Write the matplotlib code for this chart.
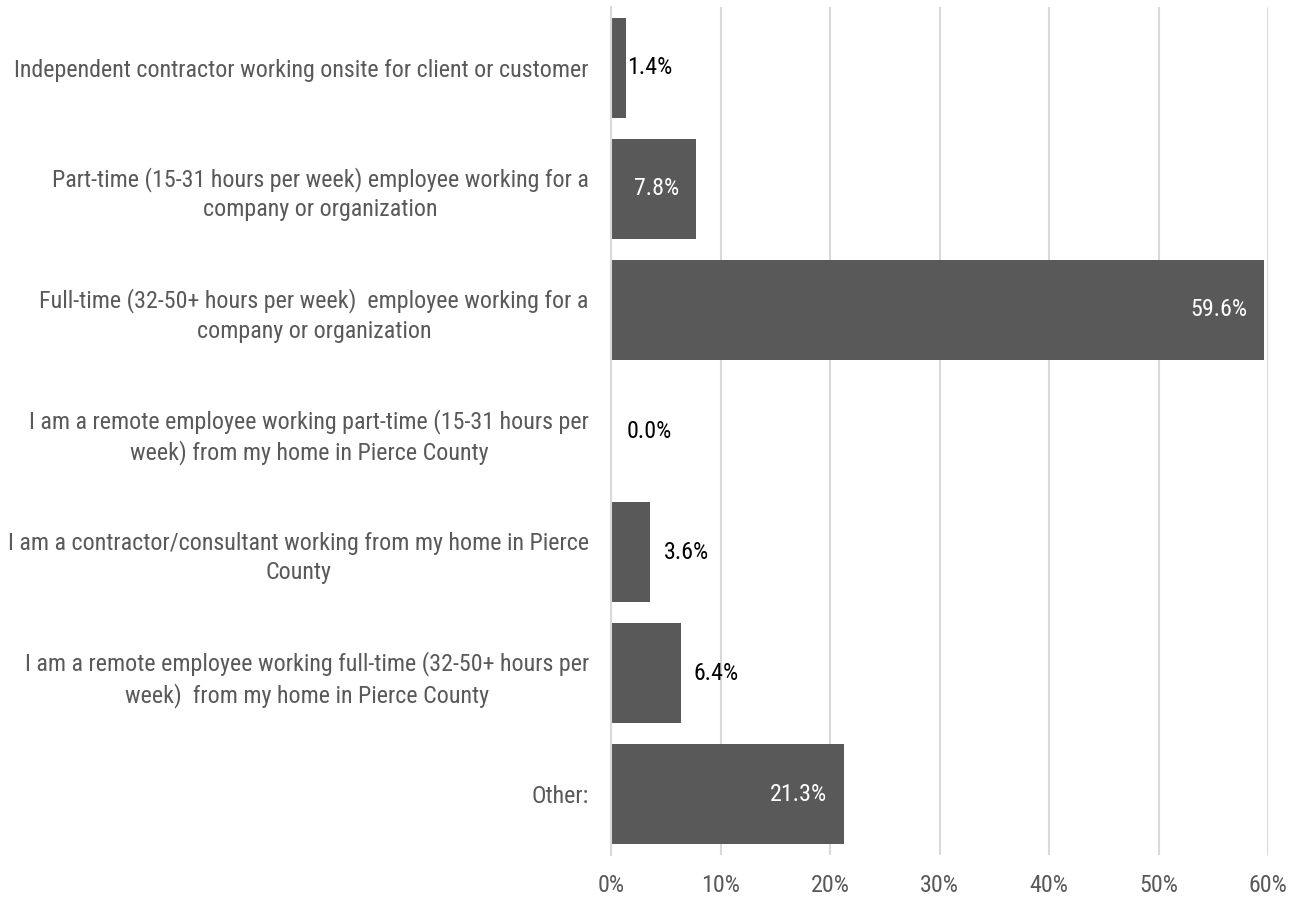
import matplotlib
matplotlib.use("Agg")
import matplotlib.pyplot as plt
from matplotlib import font_manager

names = {f.name for f in font_manager.fontManager.ttflist}
fam = ['Roboto Condensed'] if 'Roboto Condensed' in names else ['Roboto']
plt.rcParams['font.family'] = fam + ['DejaVu Sans']

categories = [
    "Independent contractor working onsite for client or customer",
    "Part-time (15-31 hours per week) employee working for a\ncompany or organization",
    "Full-time (32-50+ hours per week)  employee working for a\ncompany or organization",
    "I am a remote employee working part-time (15-31 hours per\nweek) from my home in Pierce County",
    "I am a contractor/consultant working from my home in Pierce\nCounty",
    "I am a remote employee working full-time (32-50+ hours per\nweek)  from my home in Pierce County",
    "Other:",
]
values = [1.4, 7.8, 59.6, 0.0, 3.6, 6.4, 21.3]
ticks = [0, 10, 20, 30, 40, 50, 60]
tick_labels = ["0%", "10%", "20%", "30%", "40%", "50%", "60%"]

W, H = 1302, 898
FS = 17.3
fig = plt.figure(figsize=(W / 100, H / 100), dpi=100)
ax = fig.add_axes([611 / W, 1 - 855 / H, (1268 - 611) / W, (855 - 7) / H])

y = list(range(len(categories)))
ax.barh(y, values, height=0.826, color="#595959", zorder=2)
ax.set_ylim(len(categories) - 0.5, -0.5)
ax.set_xlim(0, 60)
ax.set_xticks(ticks)
ax.set_xticklabels(tick_labels)
ax.set_yticks(y)
ax.set_yticklabels(categories, ha="right", multialignment="center", linespacing=1.35)
ax.tick_params(axis="y", length=0, pad=16, labelsize=FS, labelcolor="#595959")
ax.tick_params(axis="x", length=0, pad=14, labelsize=FS, labelcolor="#595959")
for s in ["top", "right", "bottom"]:
    ax.spines[s].set_visible(False)
ax.spines["left"].set_color("#d9d9d9")
ax.spines["left"].set_linewidth(1.5)
ax.grid(axis="x", color="#d9d9d9", linewidth=1.5, zorder=0)
ax.set_axisbelow(True)

outside_offsets = {0: 1, 3: 16, 4: 13, 5: 12}
for yi, v in zip(y, values):
    if v >= 7:
        ax.annotate(f"{v:.1f}%", (v, yi), xytext=(-12, 0), textcoords="offset points",
                    ha="right", va="center", color="white", fontsize=FS)
    else:
        ax.annotate(f"{v:.1f}%", (v, yi), xytext=(outside_offsets.get(yi, 12) * 0.72, 0),
                    textcoords="offset points", ha="left", va="center", color="black", fontsize=FS)

fig.savefig("out.png", dpi=100)
